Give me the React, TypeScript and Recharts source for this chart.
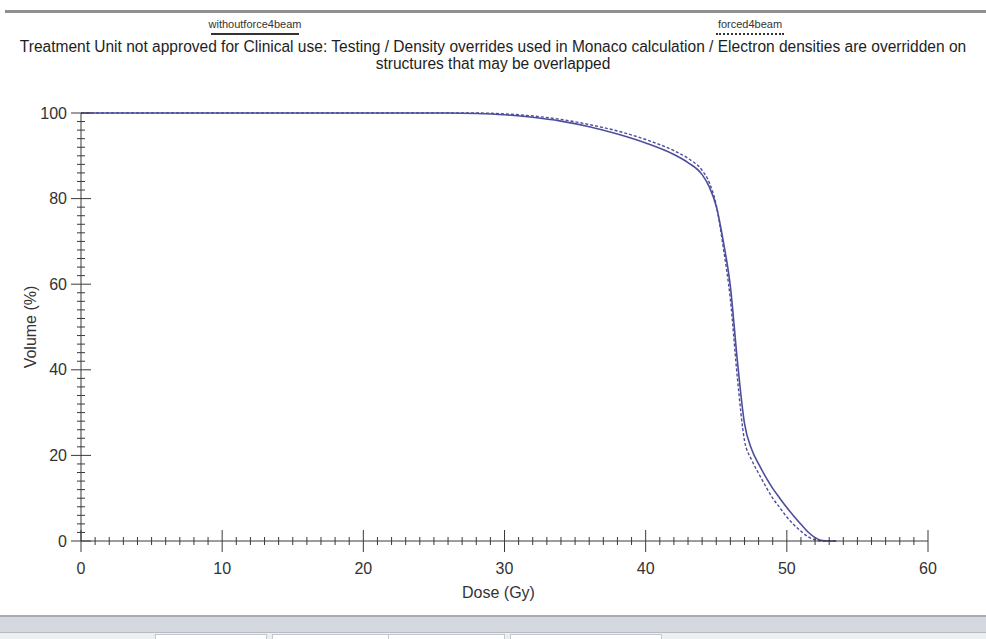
import { Label, Line, LineChart, XAxis, YAxis } from 'recharts';

const doses = [0, 10, 20, 26, 28, 30, 32, 34, 36, 38, 40, 42, 43, 44, 44.5, 45, 45.5, 46, 46.5, 47, 47.5, 48, 48.5, 49, 49.5, 50, 50.5, 51, 51.5, 52, 52.5, 53, 53.5];
const withoutForce4Beam = [100, 100, 100, 100, 99.9, 99.6, 99.0, 98.1, 96.8, 95.1, 93.0, 90.3, 88.4, 85.6, 82.8, 78.2, 70.0, 59.5, 42.0, 27.5, 21.5, 18.0, 15.0, 12.3, 10.0, 7.8, 5.8, 3.9, 2.1, 0.8, 0.1, 0, 0];
const forced4Beam = [100, 100, 100, 100, 100, 99.8, 99.3, 98.5, 97.3, 95.8, 93.8, 91.2, 89.4, 86.6, 83.8, 78.5, 68.5, 56.5, 38.0, 23.5, 19.0, 15.8, 12.8, 10.0, 7.8, 5.6, 3.8, 2.3, 1.0, 0.3, 0, 0, 0];

const xMinor = Array.from({ length: 61 }, (_, i) => i);
const yMinor = Array.from({ length: 51 }, (_, i) => i * 2);

const rows = doses.map((d, i) => ({ dose: d, without: withoutForce4Beam[i], forced: forced4Beam[i] }));

const FONT = '"Liberation Sans", Arial, sans-serif';
const AXIS = '#3a3a3a';
const LINE = '#4d4d9c';

function XTick({ x, y, payload }: any) {
  const major = payload.value % 10 === 0;
  const h = major ? 11 : 4;
  return (
    <g>
      <line x1={x} x2={x} y1={y - h} y2={y + h} stroke={AXIS} strokeWidth={1} />
      {major && (
        <text x={x} y={y + 27} textAnchor="middle" dominantBaseline="central" fontSize={16} fill="#333" fontFamily={FONT}>
          {payload.value}
        </text>
      )}
    </g>
  );
}

function YTick({ x, y, payload }: any) {
  const major = payload.value % 20 === 0;
  const w = major ? 10 : 4;
  return (
    <g>
      <line x1={x - w} x2={x + w} y1={y} y2={y} stroke={AXIS} strokeWidth={1} />
      {major && (
        <text x={x - 14} y={y} textAnchor="end" dominantBaseline="central" fontSize={16} fill="#333" fontFamily={FONT}>
          {payload.value}
        </text>
      )}
    </g>
  );
}

export default function App() {
  return (
    <div style={{ position: 'absolute', left: 0, top: 0, width: 986, height: 639, background: '#fff', fontFamily: FONT, overflow: 'hidden' }}>
      <div style={{ position: 'absolute', left: 5, right: 0, top: 10, height: 3, background: '#8f8f8f' }} />
      <div style={{ position: 'absolute', left: 205, width: 100, top: 18, fontSize: 11, textAlign: 'center', color: '#333' }}>withoutforce4beam</div>
      <div style={{ position: 'absolute', left: 211, width: 88, top: 33, height: 2, background: '#333' }} />
      <div style={{ position: 'absolute', left: 700, width: 100, top: 18, fontSize: 11, textAlign: 'center', color: '#333' }}>forced4beam</div>
      <div style={{ position: 'absolute', left: 716, width: 68, top: 33, borderTop: '2px dotted #333' }} />
      <div style={{ position: 'absolute', left: 0, width: 986, top: 38, fontSize: 16, lineHeight: '17px', textAlign: 'center', color: '#1e1e1e', transform: 'scaleX(0.97)' }}>
        Treatment Unit not approved for Clinical use: Testing / Density overrides used in Monaco calculation / Electron densities are overridden on
        <br />
        structures that may be overlapped
      </div>

      <div style={{ position: 'absolute', left: 0, top: 0 }}>
        <LineChart width={986} height={639} data={rows} margin={{ top: 113, right: 58, bottom: 48, left: 21 }}>
          <XAxis
            dataKey="dose"
            type="number"
            domain={[0, 60]}
            ticks={xMinor}
            interval={0}
            tickSize={0}
            tickMargin={0}
            height={50}
            stroke={AXIS}
            tick={<XTick />}
          >
            <Label
              content={({ viewBox }: any) => (
                <text x={viewBox.x + viewBox.width / 2 - 6} y={viewBox.y + 51} textAnchor="middle" dominantBaseline="central" fontSize={16} fill="#333" fontFamily={FONT}>
                  Dose (Gy)
                </text>
              )}
            />
          </XAxis>
          <YAxis
            type="number"
            domain={[0, 100]}
            ticks={yMinor}
            interval={0}
            tickSize={0}
            tickMargin={0}
            width={60}
            stroke={AXIS}
            tick={<YTick />}
          >
            <Label
              content={({ viewBox }: any) => {
                const cy = viewBox.y + viewBox.height / 2;
                return (
                  <text x={30} y={cy} transform={`rotate(-90 30 ${cy})`} textAnchor="middle" dominantBaseline="central" fontSize={16} fill="#333" fontFamily={FONT}>
                    Volume (%)
                  </text>
                );
              }}
            />
          </YAxis>
          <Line type="monotone" dataKey="without" stroke={LINE} strokeWidth={1.6} dot={false} isAnimationActive={false} />
          <Line type="monotone" dataKey="forced" stroke={LINE} strokeWidth={1.4} strokeDasharray="3 2" dot={false} isAnimationActive={false} />
        </LineChart>
      </div>

      <div style={{ position: 'absolute', left: 0, right: 0, top: 615, height: 17, background: '#d5d8df', borderTop: '2px solid #a9abb0' }} />
      <div style={{ position: 'absolute', left: 0, right: 0, top: 632, height: 7, background: '#eceef2', borderTop: '1px solid #b8bbc2' }} />
      <div style={{ position: 'absolute', left: 155, width: 110, top: 634, height: 5, background: '#fff', border: '1px solid #c4c7cd' }} />
      <div style={{ position: 'absolute', left: 272, width: 115, top: 634, height: 5, background: '#fff', border: '1px solid #c4c7cd' }} />
      <div style={{ position: 'absolute', left: 388, width: 115, top: 634, height: 5, background: '#fff', border: '1px solid #c4c7cd' }} />
      <div style={{ position: 'absolute', left: 510, width: 150, top: 634, height: 5, background: '#fff', border: '1px solid #c4c7cd' }} />
    </div>
  );
}
